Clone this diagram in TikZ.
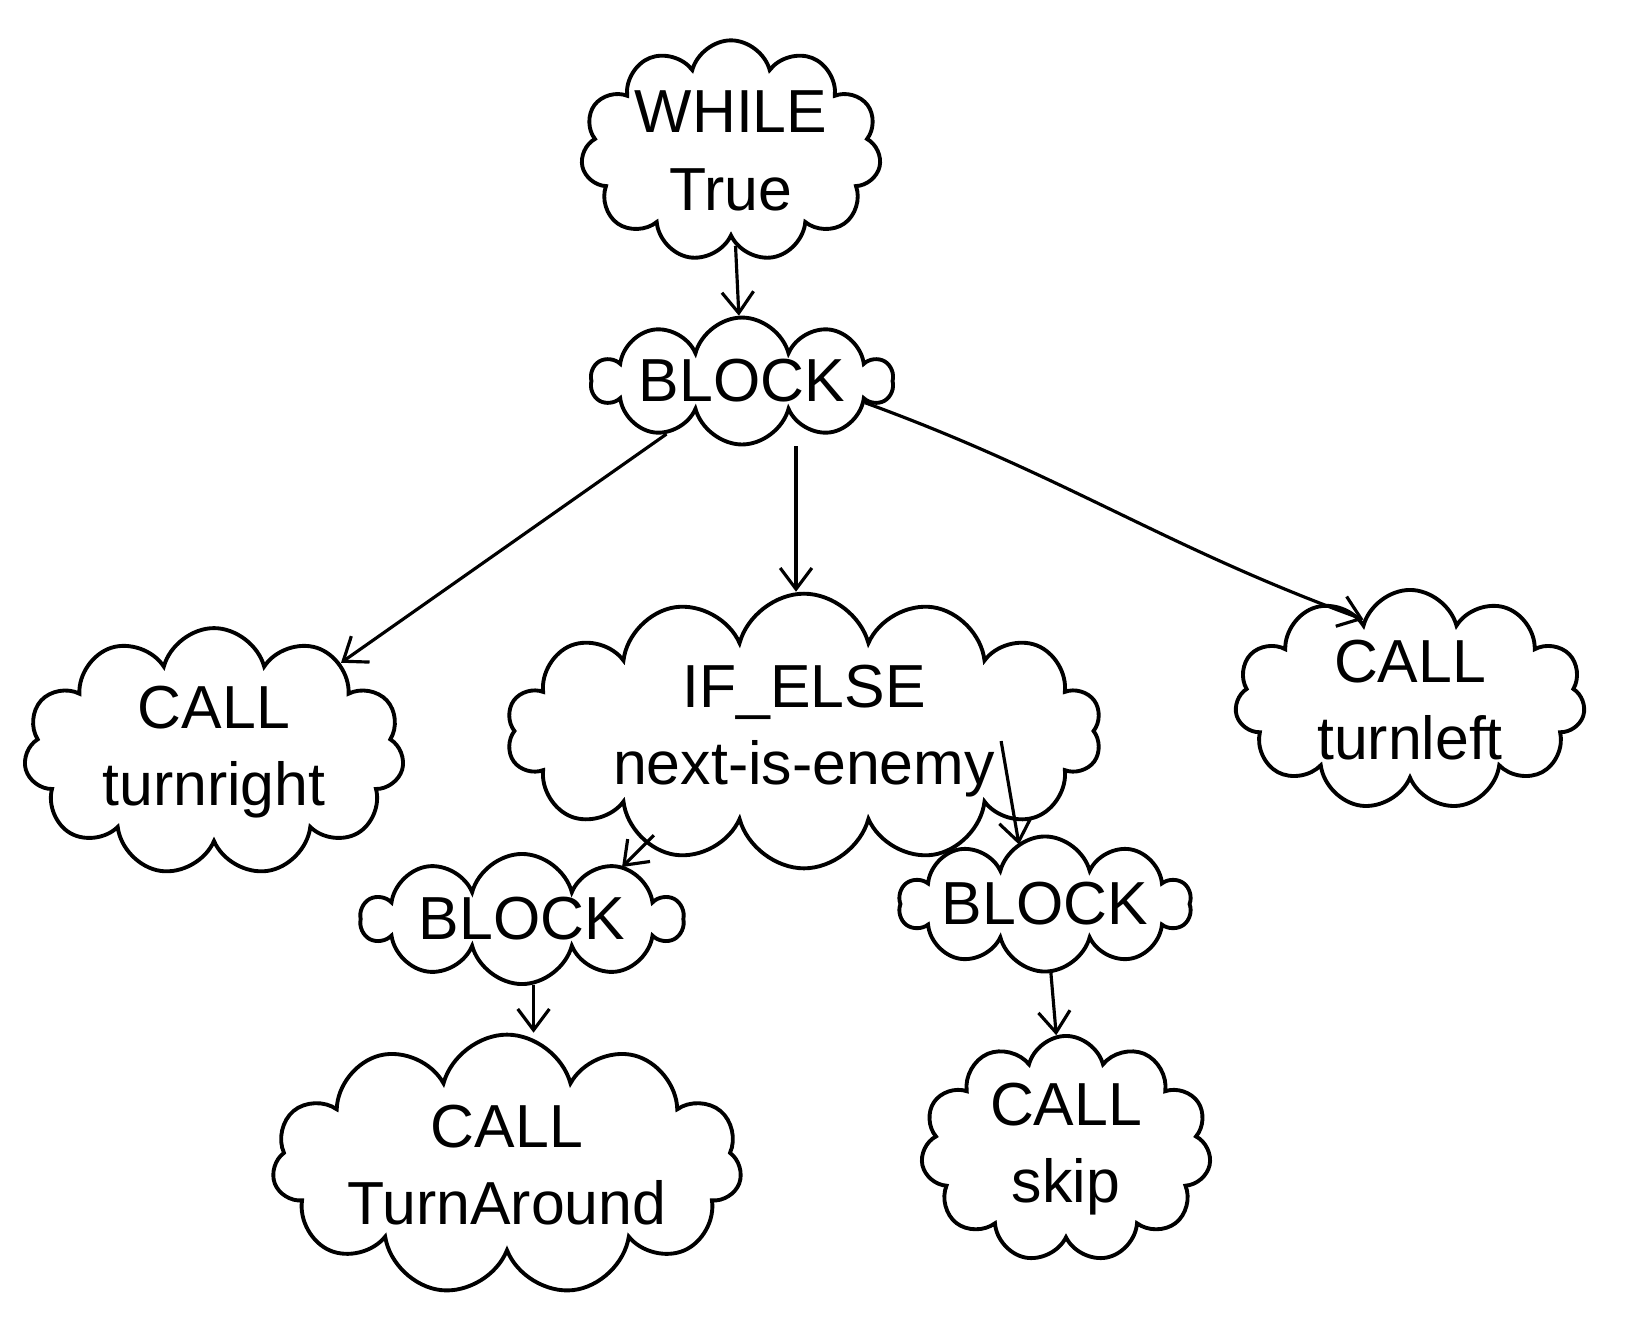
\documentclass[tikz,border=0pt]{standalone}
\usepackage{fontspec}
\setmainfont{Liberation Sans}
\usetikzlibrary{shapes.symbols,arrows.meta}

\tikzset{
  blob/.style={cloud, draw, line width=1.1pt, cloud puffs=#1, cloud ignores aspect,
    inner sep=0pt, align=center, font=\LARGE},
  blob/.default=11,
  link/.style={-{Straight Barb[length=6pt,width=9pt]}, line width=0.9pt},
}

\begin{document}
\begin{tikzpicture}[x=0.01cm, y=-0.01cm]
  \useasboundingbox (0,0) rectangle (1638,1332);
  % === Top: loop and its body ===
  \node[blob, minimum width=3cm, minimum height=1.9cm] (while) at (731,151) {WHILE\\True};
  \node[blob=10, minimum width=3cm, minimum height=1.1cm] (blk) at (742,381) {BLOCK};
  % === Middle row ===
  \node[blob, minimum width=3.8cm, minimum height=2.4cm] (trnright) at (214,752) {CALL\\turnright};
  \node[blob=14, minimum width=5.95cm, minimum height=2.3cm] (ifelse) at (804,731) {IF\_ELSE\\next-is-enemy};
  \node[blob, minimum width=3.5cm, minimum height=2.1cm] (trnleft) at (1410,700) {CALL\\turnleft};
  % === Branches of the IF_ELSE ===
  \node[blob=10, minimum width=3.2cm, minimum height=1.3cm] (blkA) at (522,919) {BLOCK};
  \node[blob=10, minimum width=2.9cm, minimum height=1.35cm] (blkB) at (1045,904) {BLOCK};
  \node[blob, minimum width=4.3cm, minimum height=1.95cm] (around) at (507,1165) {CALL\\TurnAround};
  \node[blob, minimum width=2.9cm, minimum height=2cm] (skip) at (1066,1149) {CALL\\skip};
  % Connectors
  \draw[link] (while) -- (blk);
  \draw[link] (blk) -- (trnright);
  \draw[link] ([xshift=0.54cm]blk.south) -- ([xshift=0.54cm]blk.south |- ifelse.north);
  \draw[link] (blk.-10) to[out=-20, in=160] (trnleft.120);
  \draw[link] ([shift={(-1.5cm,0.35cm)}]ifelse.south) -- ([shift={(1cm,-0.15cm)}]blkA.north);
  \draw[link] ([shift={(1.97cm,-0.1cm)}]ifelse.center) -- ([shift={(-0.26cm,-0.1cm)}]blkB.north);
  \draw[link] (blkA.-80) -- (blkA.-80 |- around.north);
  \draw[link] (blkB) -- (skip);
\end{tikzpicture}
\end{document}
